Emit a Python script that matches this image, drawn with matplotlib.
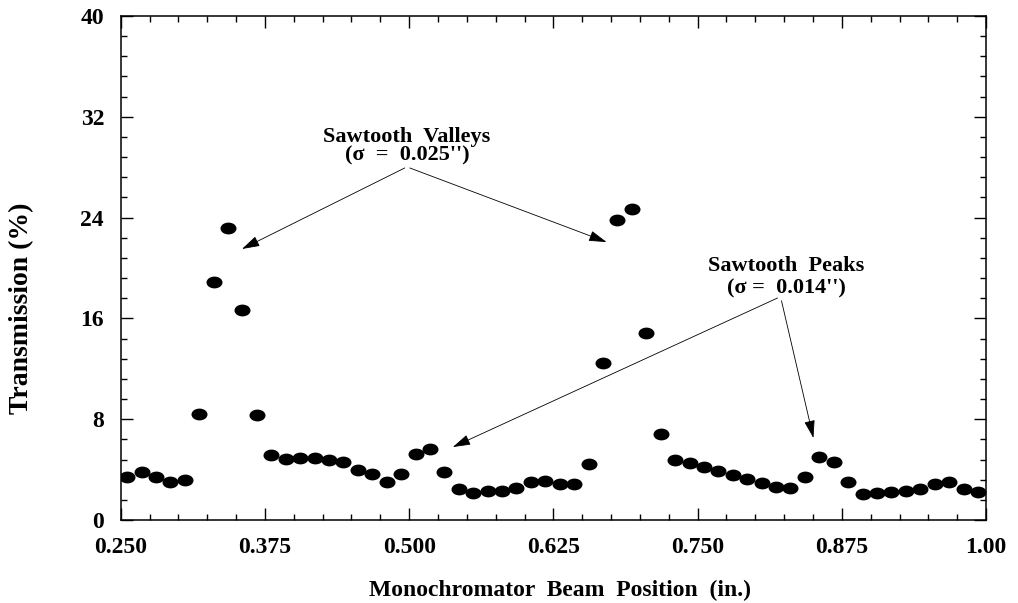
import numpy as np
import matplotlib
matplotlib.use("Agg")
import matplotlib.pyplot as plt
from matplotlib.path import Path
from matplotlib.transforms import Affine2D
from matplotlib.ticker import MultipleLocator, FixedLocator, FixedFormatter

# Transmission scan across the monochromator beam
position = [
    0.2555, 0.2680, 0.2805, 0.2930, 0.3055, 0.3180, 0.3305, 0.3430, 0.3555, 0.3680,
    0.3805, 0.3930, 0.4055, 0.4180, 0.4305, 0.4430, 0.4555, 0.4680, 0.4805, 0.4930,
    0.5055, 0.5180, 0.5305, 0.5430, 0.5555, 0.5680, 0.5805, 0.5930, 0.6055, 0.6180,
    0.6305, 0.6430, 0.6555, 0.6680, 0.6805, 0.6930, 0.7055, 0.7180, 0.7305, 0.7430,
    0.7555, 0.7680, 0.7805, 0.7930, 0.8055, 0.8180, 0.8305, 0.8430, 0.8555, 0.8680,
    0.8805, 0.8930, 0.9055, 0.9180, 0.9305, 0.9430, 0.9555, 0.9680, 0.9805, 0.9930,
]
transmission = [
    3.41, 3.78, 3.41, 3.02, 3.20, 8.41, 18.85, 23.20, 16.64, 8.31,
    5.19, 4.84, 4.89, 4.89, 4.76, 4.58, 4.00, 3.62, 3.02, 3.62,
    5.24, 5.63, 3.81, 2.46, 2.14, 2.27, 2.27, 2.51, 2.99, 3.07,
    2.83, 2.83, 4.44, 12.49, 23.84, 24.68, 14.84, 6.80, 4.74, 4.50,
    4.18, 3.92, 3.57, 3.28, 2.91, 2.65, 2.51, 3.44, 4.97, 4.63,
    3.02, 2.06, 2.12, 2.25, 2.33, 2.49, 2.88, 2.99, 2.49, 2.25,
]

x_ticks = [0.250, 0.375, 0.500, 0.625, 0.750, 0.875, 1.000]
x_tick_labels = ["0.250", "0.375", "0.500", "0.625", "0.750", "0.875", "1.00"]
y_ticks = [0, 8, 16, 24, 32, 40]
y_tick_labels = ["0", "8", "16", "24", "32", "40"]

plt.rcParams["font.family"] = ["Liberation Serif", "DejaVu Serif"]
plt.rcParams["font.weight"] = "bold"

fig = plt.figure(figsize=(10.18, 6.03), dpi=100)
ax = fig.add_axes([0.1186, 0.1376, 0.8500, 0.8359])

# slightly wide dots
dot = Path.unit_circle().transformed(Affine2D().scale(1.4, 1.0))
ax.plot(position, transmission, linestyle="none", marker=dot,
        markersize=10.5, color="black")

ax.set_xlim(0.25, 1.0)
ax.set_ylim(0, 40)
ax.xaxis.set_major_locator(FixedLocator(x_ticks))
ax.xaxis.set_major_formatter(FixedFormatter(x_tick_labels))
ax.xaxis.set_minor_locator(MultipleLocator(0.025))
ax.yaxis.set_major_locator(FixedLocator(y_ticks))
ax.yaxis.set_major_formatter(FixedFormatter(y_tick_labels))
ax.yaxis.set_minor_locator(MultipleLocator(1.6))

ax.tick_params(which="both", direction="in", top=True, right=True, width=1.0)
ax.tick_params(which="major", length=8.6)
ax.tick_params(which="minor", length=4.3)
ax.tick_params(axis="x", which="major", pad=12, labelsize=17)
ax.tick_params(axis="y", which="major", pad=12, labelsize=17)
for lab in ax.get_xticklabels() + ax.get_yticklabels():
    lab.set_fontweight("bold")
for sp in ax.spines.values():
    sp.set_linewidth(1.1)

fig.text(560 / 1018, 1 - 596 / 603, "Monochromator  Beam  Position  (in.)",
         ha="center", va="baseline", fontsize=17, fontweight="bold")
fig.text(22 / 1018, 1 - 308 / 603, "Transmission (%)", rotation=90,
         ha="center", va="center", fontsize=20, fontweight="bold")

arrow = dict(arrowstyle="-|>,head_length=0.5,head_width=0.15", color="black",
             lw=0.6, mutation_scale=22, shrinkA=0, shrinkB=0)

# valleys label and arrows
ax.text(0.498, 30.0, "Sawtooth  Valleys", ha="center", va="baseline",
        fontsize=16, fontweight="bold")
ax.text(0.498, 28.57, "(\u03c3  =  0.025'')", ha="center", va="baseline",
        fontsize=16, fontweight="bold")
ax.annotate("", xy=(0.3551, 21.51), xytext=(0.4962, 27.94), arrowprops=arrow)
ax.annotate("", xy=(0.6711, 22.06), xytext=(0.5005, 27.94), arrowprops=arrow)

# peaks label and arrows
ax.text(0.827, 19.76, "Sawtooth  Peaks", ha="center", va="baseline",
        fontsize=16, fontweight="bold")
ax.text(0.827, 18.0, "(\u03c3 =  0.014'')", ha="center", va="baseline",
        fontsize=16, fontweight="bold")
ax.annotate("", xy=(0.5378, 5.79), xytext=(0.8193, 17.62), arrowprops=arrow)
ax.annotate("", xy=(0.8504, 6.51), xytext=(0.8227, 17.40), arrowprops=arrow)

fig.savefig("out.png", dpi=100)
